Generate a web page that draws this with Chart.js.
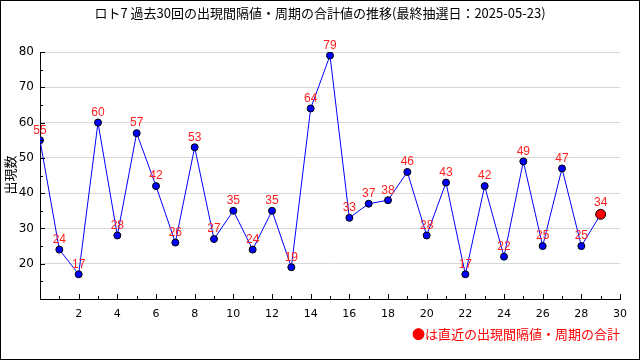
<!DOCTYPE html>
<html>
<head>
<meta charset="utf-8">
<script src="https://cdn.jsdelivr.net/npm/chart.js@4/dist/chart.umd.min.js"></script>
<style>
  body { margin: 0; background: #fff; }
  #wrap { width: 640px; height: 360px; position: relative; }
</style>
</head>
<body>
<div id="wrap"><canvas id="c" width="640" height="360"></canvas></div>
<script>
let titleText = 'ロト7 過去30回の出現間隔値・周期の合計値の推移(最終抽選日：2025-05-23)';
let yTitle = '出現数';
let noteText = '●は直近の出現間隔値・周期の合計';

let draws = [0, 1, 2, 3, 4, 5, 6, 7, 8, 9, 10, 11, 12, 13, 14, 15, 16, 17, 18, 19, 20, 21, 22, 23, 24, 25, 26, 27, 28, 29];
let sums = [55, 24, 17, 60, 28, 57, 42, 26, 53, 27, 35, 24, 35, 19, 64, 79, 33, 37, 38, 46, 28, 43, 17, 42, 22, 49, 25, 47, 25, 34];

let yTicks = [20, 30, 40, 50, 60, 70, 80];
let xTicks = [2, 4, 6, 8, 10, 12, 14, 16, 18, 20, 22, 24, 26, 28, 30];

let last = sums.length - 1;
let pts = draws.map(function (d, i) { return { x: d, y: sums[i] }; });

let cjk = '"Noto Sans CJK JP", sans-serif';

// title, axis title, footnote, inward ticks, value labels, frame
let extras = {
    id: 'extras',
    afterDraw: function (chart) {
        let ctx = chart.ctx;
        let xs = chart.scales.x, ys = chart.scales.y;
        let a = chart.chartArea;
        ctx.save();

        ctx.fillStyle = '#000';
        ctx.font = '13px ' + cjk;
        ctx.textAlign = 'center';
        ctx.textBaseline = 'middle';
        ctx.fillText(titleText, 320, 13);

        ctx.save();
        ctx.translate(10, 175);
        ctx.rotate(-Math.PI / 2);
        ctx.fillText(yTitle, 0, 0);
        ctx.restore();

        ctx.fillStyle = '#ff0000';
        ctx.textAlign = 'right';
        ctx.fillText(noteText, 620, 334);

        // ticks pointing into the plot
        ctx.strokeStyle = '#000';
        ctx.lineWidth = 1;
        ctx.beginPath();
        for (let v = 10; v <= 80; v += 5) {
            let py = Math.round(ys.getPixelForValue(v)) + 0.5;
            let len = v % 10 === 0 ? 5 : 3;
            ctx.moveTo(a.left, py);
            ctx.lineTo(a.left + len, py);
        }
        for (let v = 0; v <= 30; v++) {
            let px = Math.round(xs.getPixelForValue(v)) + 0.5;
            let len = v % 2 === 0 ? 5 : 3;
            ctx.moveTo(px, a.bottom);
            ctx.lineTo(px, a.bottom - len);
        }
        ctx.stroke();

        // value labels
        let meta = chart.getDatasetMeta(0);
        ctx.fillStyle = '#ff2020';
        ctx.font = '12px "Liberation Sans", Arial, sans-serif';
        ctx.textAlign = 'center';
        ctx.textBaseline = 'middle';
        meta.data.forEach(function (el, i) {
            ctx.fillText(String(sums[i]), el.x, el.y - (i === last ? 12 : 10));
        });

        ctx.strokeStyle = '#000';
        ctx.strokeRect(0.5, 0.5, 639, 359);
        ctx.restore();
    }
};

new Chart(document.getElementById('c'), {
    type: 'line',
    data: {
        datasets: [{
            data: pts,
            borderColor: '#0000ff',
            borderWidth: 1,
            tension: 0,
            fill: false,
            pointRadius: sums.map(function (v, i) { return i === last ? 5 : 3.5; }),
            pointBackgroundColor: sums.map(function (v, i) { return i === last ? '#ff0000' : '#0000ff'; }),
            pointBorderColor: '#000',
            pointBorderWidth: 1
        }]
    },
    options: {
        responsive: false,
        animation: false,
        events: [],
        layout: { padding: { left: 0, right: 20, top: 52, bottom: 0 } },
        plugins: { legend: { display: false }, tooltip: { enabled: false } },
        scales: {
            x: {
                type: 'linear',
                min: 0,
                max: 30,
                afterFit: function (s) { s.height = 61; },
                afterBuildTicks: function (s) { s.ticks = xTicks.map(function (v) { return { value: v }; }); },
                grid: { color: 'rgba(0,0,0,0)', drawTicks: false },
                border: { display: true, color: '#000', width: 1 },
                ticks: { color: '#000', font: { size: 11, family: '"DejaVu Sans", sans-serif' }, padding: 9, maxRotation: 0 }
            },
            y: {
                min: 10,
                max: 80,
                afterFit: function (s) { s.width = 40; },
                afterBuildTicks: function (s) { s.ticks = yTicks.map(function (v) { return { value: v }; }); },
                grid: { color: '#d8d8d8', drawTicks: false },
                border: { display: true, color: '#000', width: 1 },
                ticks: { color: '#000', font: { size: 12, family: '"DejaVu Sans", sans-serif' }, padding: 6 }
            }
        }
    },
    plugins: [extras]
});
</script>
</body>
</html>
